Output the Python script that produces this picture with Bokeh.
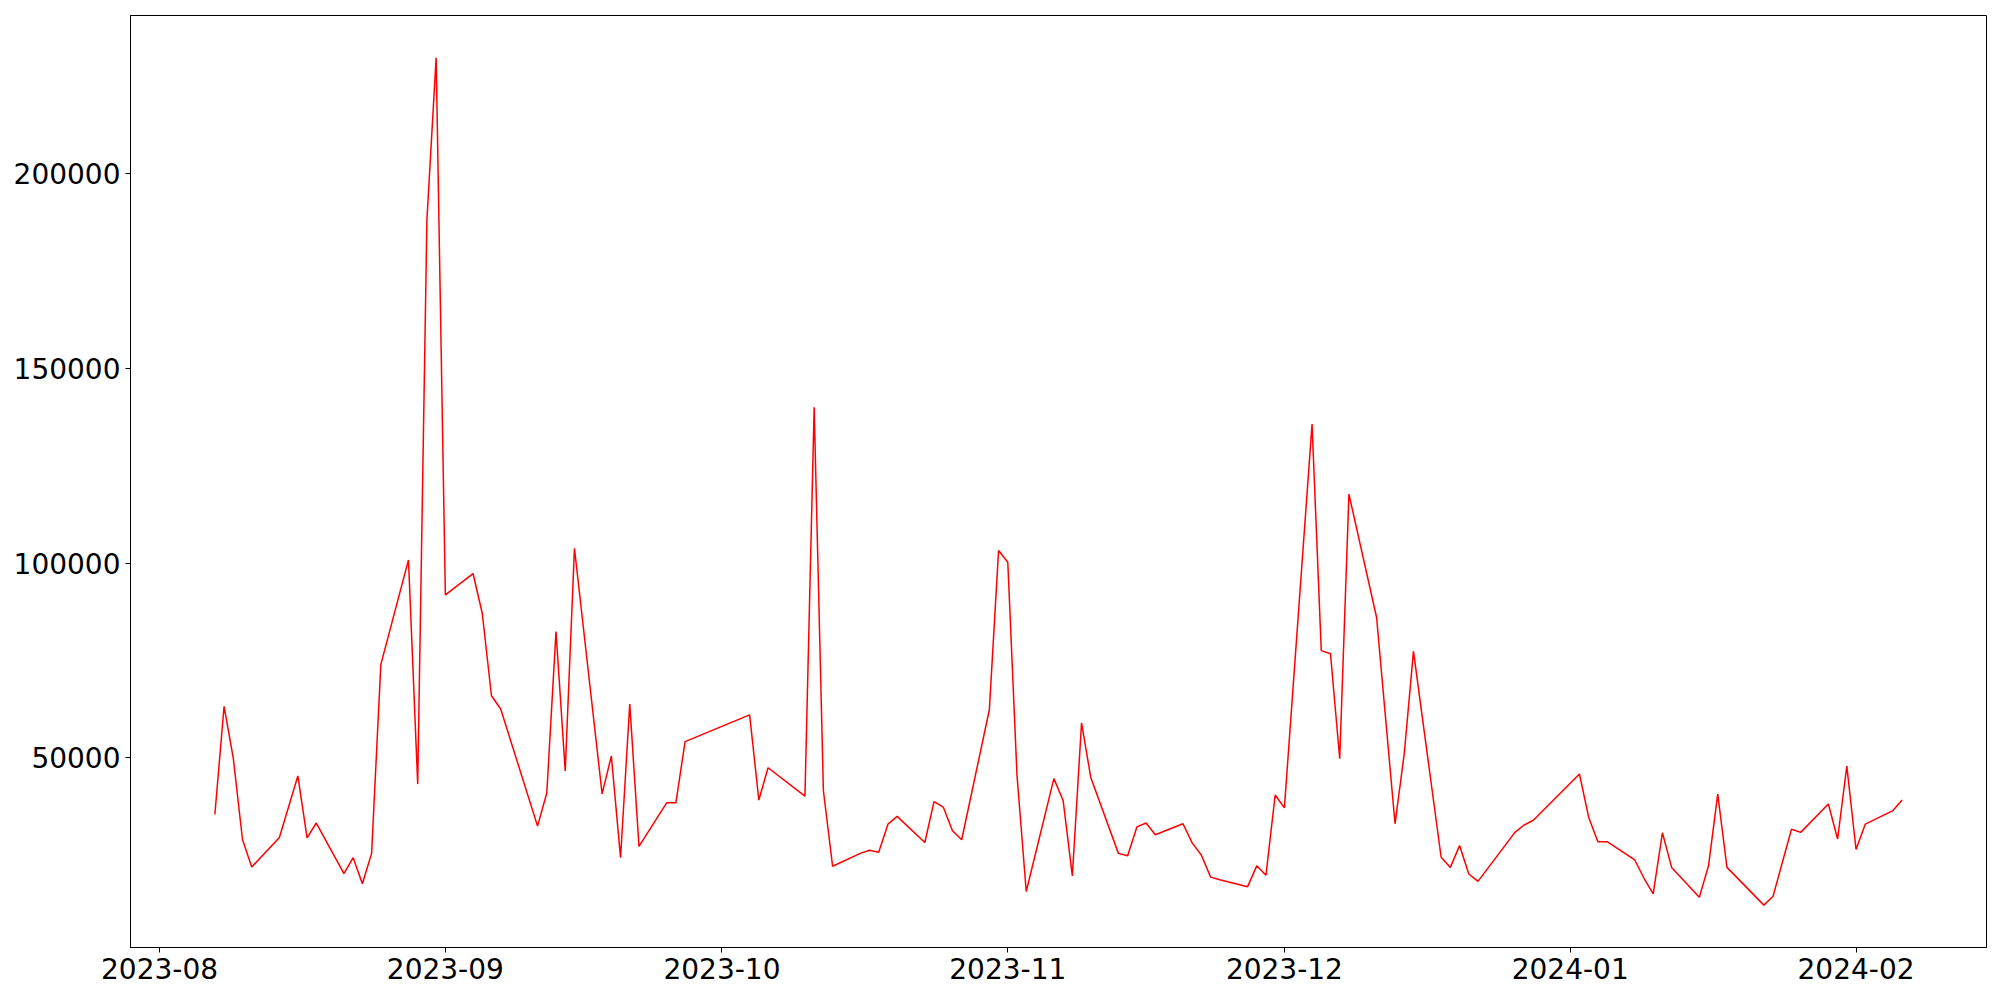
import pandas as pd
from bokeh.plotting import figure
from bokeh.models import Range1d, FixedTicker, NumeralTickFormatter
from bokeh.embed import file_html
from bokeh.resources import INLINE

dates = [
    "2023-08-07", "2023-08-08", "2023-08-09", "2023-08-10", "2023-08-11",
    "2023-08-14", "2023-08-16", "2023-08-17", "2023-08-18",
    "2023-08-21", "2023-08-22", "2023-08-23", "2023-08-24", "2023-08-25",
    "2023-08-28", "2023-08-29", "2023-08-30", "2023-08-31", "2023-09-01",
    "2023-09-04", "2023-09-05", "2023-09-06", "2023-09-07",
    "2023-09-11", "2023-09-12", "2023-09-13", "2023-09-14", "2023-09-15",
    "2023-09-18", "2023-09-19", "2023-09-20", "2023-09-21", "2023-09-22",
    "2023-09-25", "2023-09-26", "2023-09-27",
    "2023-10-04", "2023-10-05", "2023-10-06",
    "2023-10-10", "2023-10-11", "2023-10-12", "2023-10-13",
    "2023-10-16", "2023-10-17", "2023-10-18", "2023-10-19", "2023-10-20",
    "2023-10-23", "2023-10-24", "2023-10-25", "2023-10-26", "2023-10-27",
    "2023-10-30", "2023-10-31", "2023-11-01", "2023-11-02", "2023-11-03",
    "2023-11-06", "2023-11-07", "2023-11-08", "2023-11-09", "2023-11-10",
    "2023-11-13", "2023-11-14", "2023-11-15", "2023-11-16", "2023-11-17",
    "2023-11-20", "2023-11-21", "2023-11-22", "2023-11-23", "2023-11-24",
    "2023-11-27", "2023-11-28", "2023-11-29", "2023-11-30", "2023-12-01",
    "2023-12-04", "2023-12-05", "2023-12-06", "2023-12-07", "2023-12-08",
    "2023-12-11", "2023-12-13", "2023-12-14", "2023-12-15",
    "2023-12-18", "2023-12-19", "2023-12-20", "2023-12-21", "2023-12-22",
    "2023-12-26", "2023-12-27", "2023-12-28",
    "2024-01-02", "2024-01-03", "2024-01-04", "2024-01-05",
    "2024-01-08", "2024-01-09", "2024-01-10", "2024-01-11", "2024-01-12",
    "2024-01-15", "2024-01-16", "2024-01-17", "2024-01-18",
    "2024-01-22", "2024-01-23", "2024-01-25", "2024-01-26",
    "2024-01-29", "2024-01-30", "2024-01-31", "2024-02-01", "2024-02-02",
    "2024-02-05", "2024-02-06",
]

values = [
    35400, 63200, 49800, 28900, 21900,
    29500, 45300, 29400, 33200,
    20200, 24300, 17600, 25400, 73900,
    100800, 43200, 188300, 229800, 91800,
    97300, 87100, 65900, 62500,
    32400, 40900, 82400, 46600, 103800,
    40700, 50400, 24300, 63800, 27200,
    38400, 38400, 54100,
    61000, 39100, 47400,
    40100, 140000, 41500, 22100,
    25400, 26200, 25700, 32900, 34900,
    28200, 38700, 37300, 31200, 28900,
    62300, 103200, 100200, 45400, 15600,
    44600, 39000, 19600, 58900, 44900,
    25400, 24800, 32200, 33200, 30200,
    33000, 28100, 24900, 19300, 18600,
    16800, 22200, 19800, 40400, 37100,
    135700, 77500, 76700, 49700, 117700,
    86000, 33000, 51000, 77300,
    24400, 21800, 27400, 20100, 18200,
    30800, 32700, 33900,
    45800, 34700, 28400, 28400,
    23700, 19000, 15000, 30700, 21800,
    14100, 22200, 40600, 21800,
    12100, 14400, 31600, 30800,
    38100, 29100, 47800, 26400, 32900,
    36400, 39100,
]

month_ticks = ["2023-08", "2023-09", "2023-10", "2023-11", "2023-12", "2024-01", "2024-02"]
y_ticks = [50000, 100000, 150000, 200000]

x = pd.to_datetime(dates)
x_ms = [(d - pd.Timestamp("1970-01-01")).total_seconds() * 1000.0 for d in x]

xmin, xmax = min(x_ms), max(x_ms)
xpad = 0.05 * (xmax - xmin)
ymin, ymax = min(values), max(values)
ypad = 0.05 * (ymax - ymin)

tick_ms = [(pd.Timestamp(m + "-01") - pd.Timestamp("1970-01-01")).total_seconds() * 1000.0 for m in month_ticks]

p = figure(
    width=1992, height=992,
    x_axis_type="datetime",
    x_range=Range1d(xmin - xpad, xmax + xpad),
    y_range=Range1d(ymin - ypad, ymax + ypad),
    output_backend="svg",
    toolbar_location=None,
    min_border_left=130, min_border_right=6,
    min_border_top=15, min_border_bottom=45,
)

p.line(x_ms, values, line_color="red", line_width=1.5)

p.xgrid.visible = False
p.ygrid.visible = False
p.outline_line_color = "black"
p.outline_line_width = 1
p.outline_line_alpha = 1.0

p.xaxis.ticker = FixedTicker(ticks=tick_ms)
p.xaxis.major_label_overrides = {t: m for t, m in zip(tick_ms, month_ticks)}
p.yaxis.ticker = FixedTicker(ticks=y_ticks)
p.yaxis.formatter = NumeralTickFormatter(format="0")

for ax in (p.xaxis, p.yaxis):
    ax.axis_line_color = "black"
    ax.major_tick_line_color = "black"
    ax.major_tick_out = 5
    ax.major_tick_in = 0
    ax.minor_tick_line_color = None
    ax.major_label_text_font = "DejaVu Sans"
    ax.major_label_text_font_size = "28px"
    ax.major_label_text_color = "black"
    ax.major_label_standoff = 5

open("out.html", "w").write(file_html(p, INLINE))
